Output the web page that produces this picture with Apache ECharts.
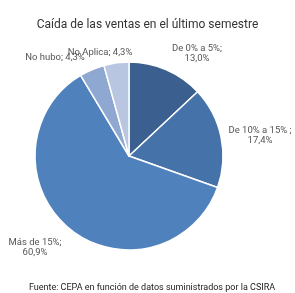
<!DOCTYPE html>
<html>
<head>
<meta charset="utf-8">
<script src="https://cdn.jsdelivr.net/npm/echarts@6/dist/echarts.min.js"></script>
<style>
  html, body { margin: 0; padding: 0; background: #fff; }
  #chart { width: 295px; height: 293px; }
</style>
</head>
<body>
<div id="chart"></div>
<script>
const categories = ['De 0% a 5%', 'De 10% a 15% ', 'Más de 15%', 'No hubo', 'No Aplica'];
const values = [13.0, 17.4, 60.9, 4.3, 4.3];
const valueLabels = ['13,0%', '17,4%', '60,9%', '4,3%', '4,3%'];
const twoLine = [true, true, true, false, false];
const colors = ['#3b5f8e', '#4672aa', '#4f81bd', '#8fa8d1', '#b9c6e1'];

// label anchor spots, per slice
const labelSpots = [[197, 49], [260, 131], [35, 243], [55, 58], [100, 53]];

const chart = echarts.init(document.getElementById('chart'));

chart.setOption({
    backgroundColor: '#fff',
    animation: false,
    title: [{
        text: 'Caída de las ventas en el último semestre',
        left: 'center',
        top: 14,
        textStyle: {fontFamily: 'Roboto', fontSize: 12, fontWeight: 'normal', color: '#333'}
    }, {
        text: 'Fuente: CEPA en función de datos suministrados por la CSIRA',
        left: 147,
        textAlign: 'center',
        top: 278,
        textStyle: {fontFamily: 'Roboto', fontSize: 9, fontWeight: 'normal', color: '#222'}
    }],
    series: [{
        type: 'pie',
        center: [129, 156],
        radius: [0, 94],
        startAngle: 90,
        clockwise: true,
        itemStyle: {borderColor: '#fff', borderWidth: 1.5},
        data: categories.map((name, i) => ({
            name: name,
            value: values[i],
            itemStyle: {color: colors[i]}
        })),
        label: {
            show: true,
            position: 'outside',
            fontFamily: 'Roboto',
            fontSize: 9.5,
            lineHeight: 10,
            color: '#555',
            align: 'center',
            verticalAlign: 'top',
            overflow: 'none',
            formatter: (p) => twoLine[p.dataIndex]
                ? p.name + ';\n' + valueLabels[p.dataIndex]
                : p.name + '; ' + valueLabels[p.dataIndex]
        },
        labelLine: {show: false},
        labelLayout: (p) => ({
            x: labelSpots[p.dataIndex][0],
            y: labelSpots[p.dataIndex][1] - 5,
            align: 'center',
            verticalAlign: 'top'
        }),
        emphasis: {disabled: true}
    }]
});
</script>
</body>
</html>
